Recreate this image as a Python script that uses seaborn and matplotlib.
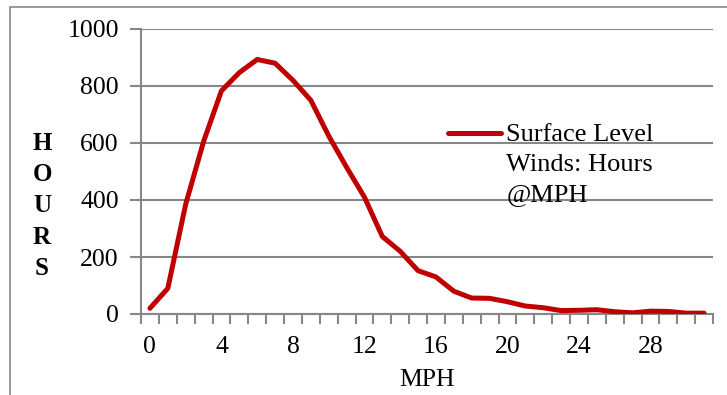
import matplotlib
matplotlib.use("Agg")
import matplotlib.pyplot as plt
import seaborn as sns
import pandas as pd
from matplotlib.patches import Rectangle
from matplotlib.legend_handler import HandlerLine2D

mph = list(range(32))
hours = [20, 90, 385, 605, 783, 847, 893, 880, 820, 750, 625, 515, 410,
         272, 220, 152, 130, 80, 56, 55, 43, 28, 22, 12, 13, 15, 8, 4,
         10, 9, 3, 3]
series_name = "Surface Level\nWinds: Hours\n@MPH"
xtick_labels = [0, 4, 8, 12, 16, 20, 24, 28]
ytick_values = [0, 200, 400, 600, 800, 1000]

sns.set_theme(style="white")
plt.rcParams['font.family'] = ['Liberation Serif', 'DejaVu Serif']

df = pd.DataFrame({"MPH": mph, "Hours": hours, "series": series_name})

fig = plt.figure(figsize=(7.27, 3.95), dpi=100)
ax = fig.add_axes([141/727, 1-314/395, 572/727, 285/395])

grey = "#878787"
sns.lineplot(data=df, x="MPH", y="Hours", hue="series", palette=["#C00000"],
             linewidth=3.6, ax=ax, zorder=3)

ax.set_xlim(-0.5, 31.5)
ax.set_ylim(0, 1000)
ax.set_yticks(ytick_values)
ax.set_yticklabels([str(v) for v in ytick_values], fontsize=18.5, color="black")
ax.yaxis.grid(True, color=grey, linewidth=1.5)
ax.set_axisbelow(True)

ax.set_xticks(xtick_labels)
ax.set_xticklabels([str(v) for v in xtick_labels], fontsize=18.5, color="black")
ax.set_xticks([i - 0.5 for i in range(33)], minor=True)
ax.tick_params(axis="x", which="major", length=0, pad=16)
ax.tick_params(axis="x", which="minor", length=7, width=1.5, color=grey, direction="out", bottom=True)
ax.tick_params(axis="y", which="major", length=8, width=1.5, color=grey, direction="out", left=True, pad=8)

for s in ["top", "right"]:
    ax.spines[s].set_visible(False)
for s in ["left", "bottom"]:
    ax.spines[s].set_color(grey)
    ax.spines[s].set_linewidth(1.5)

ax.set_xlabel("MPH", fontsize=18.5, color="black", labelpad=8)
ax.set_ylabel("")

fig.text(42/727, 1-206/395, "H\nO\nU\nR\nS", fontsize=18, fontweight="bold",
         ha="center", va="center", linespacing=1.45, color="black")

LS = 1.48


class TopLineHandler(HandlerLine2D):
    def __init__(self, shift, **kw):
        super().__init__(**kw)
        self.shift = shift

    def create_artists(self, legend, orig_handle, xdescent, ydescent, width,
                       height, fontsize, trans):
        arts = super().create_artists(legend, orig_handle, xdescent, ydescent,
                                      width, height, fontsize, trans)
        for a in arts:
            yd = a.get_ydata()
            a.set_ydata([y + self.shift for y in yd])
        return arts


handles, labels = ax.get_legend_handles_labels()
leg = ax.legend(handles, labels, loc="upper left", bbox_to_anchor=(0.537, 0.666),
                frameon=False, fontsize=19, handlelength=2.0, handletextpad=0.2,
                borderpad=0, borderaxespad=0, labelspacing=0,
                handler_map={handles[0]: TopLineHandler(shift=19 * LS - 5)})
for t in leg.get_texts():
    t.set_linespacing(LS)
    t.set_color("black")

fig.patches.append(Rectangle((10/727, -0.1), 1.2, 1 - 7/395 + 0.1,
                             transform=fig.transFigure, fill=False,
                             edgecolor=grey, linewidth=1.2))

fig.savefig("out.png", dpi=100)
